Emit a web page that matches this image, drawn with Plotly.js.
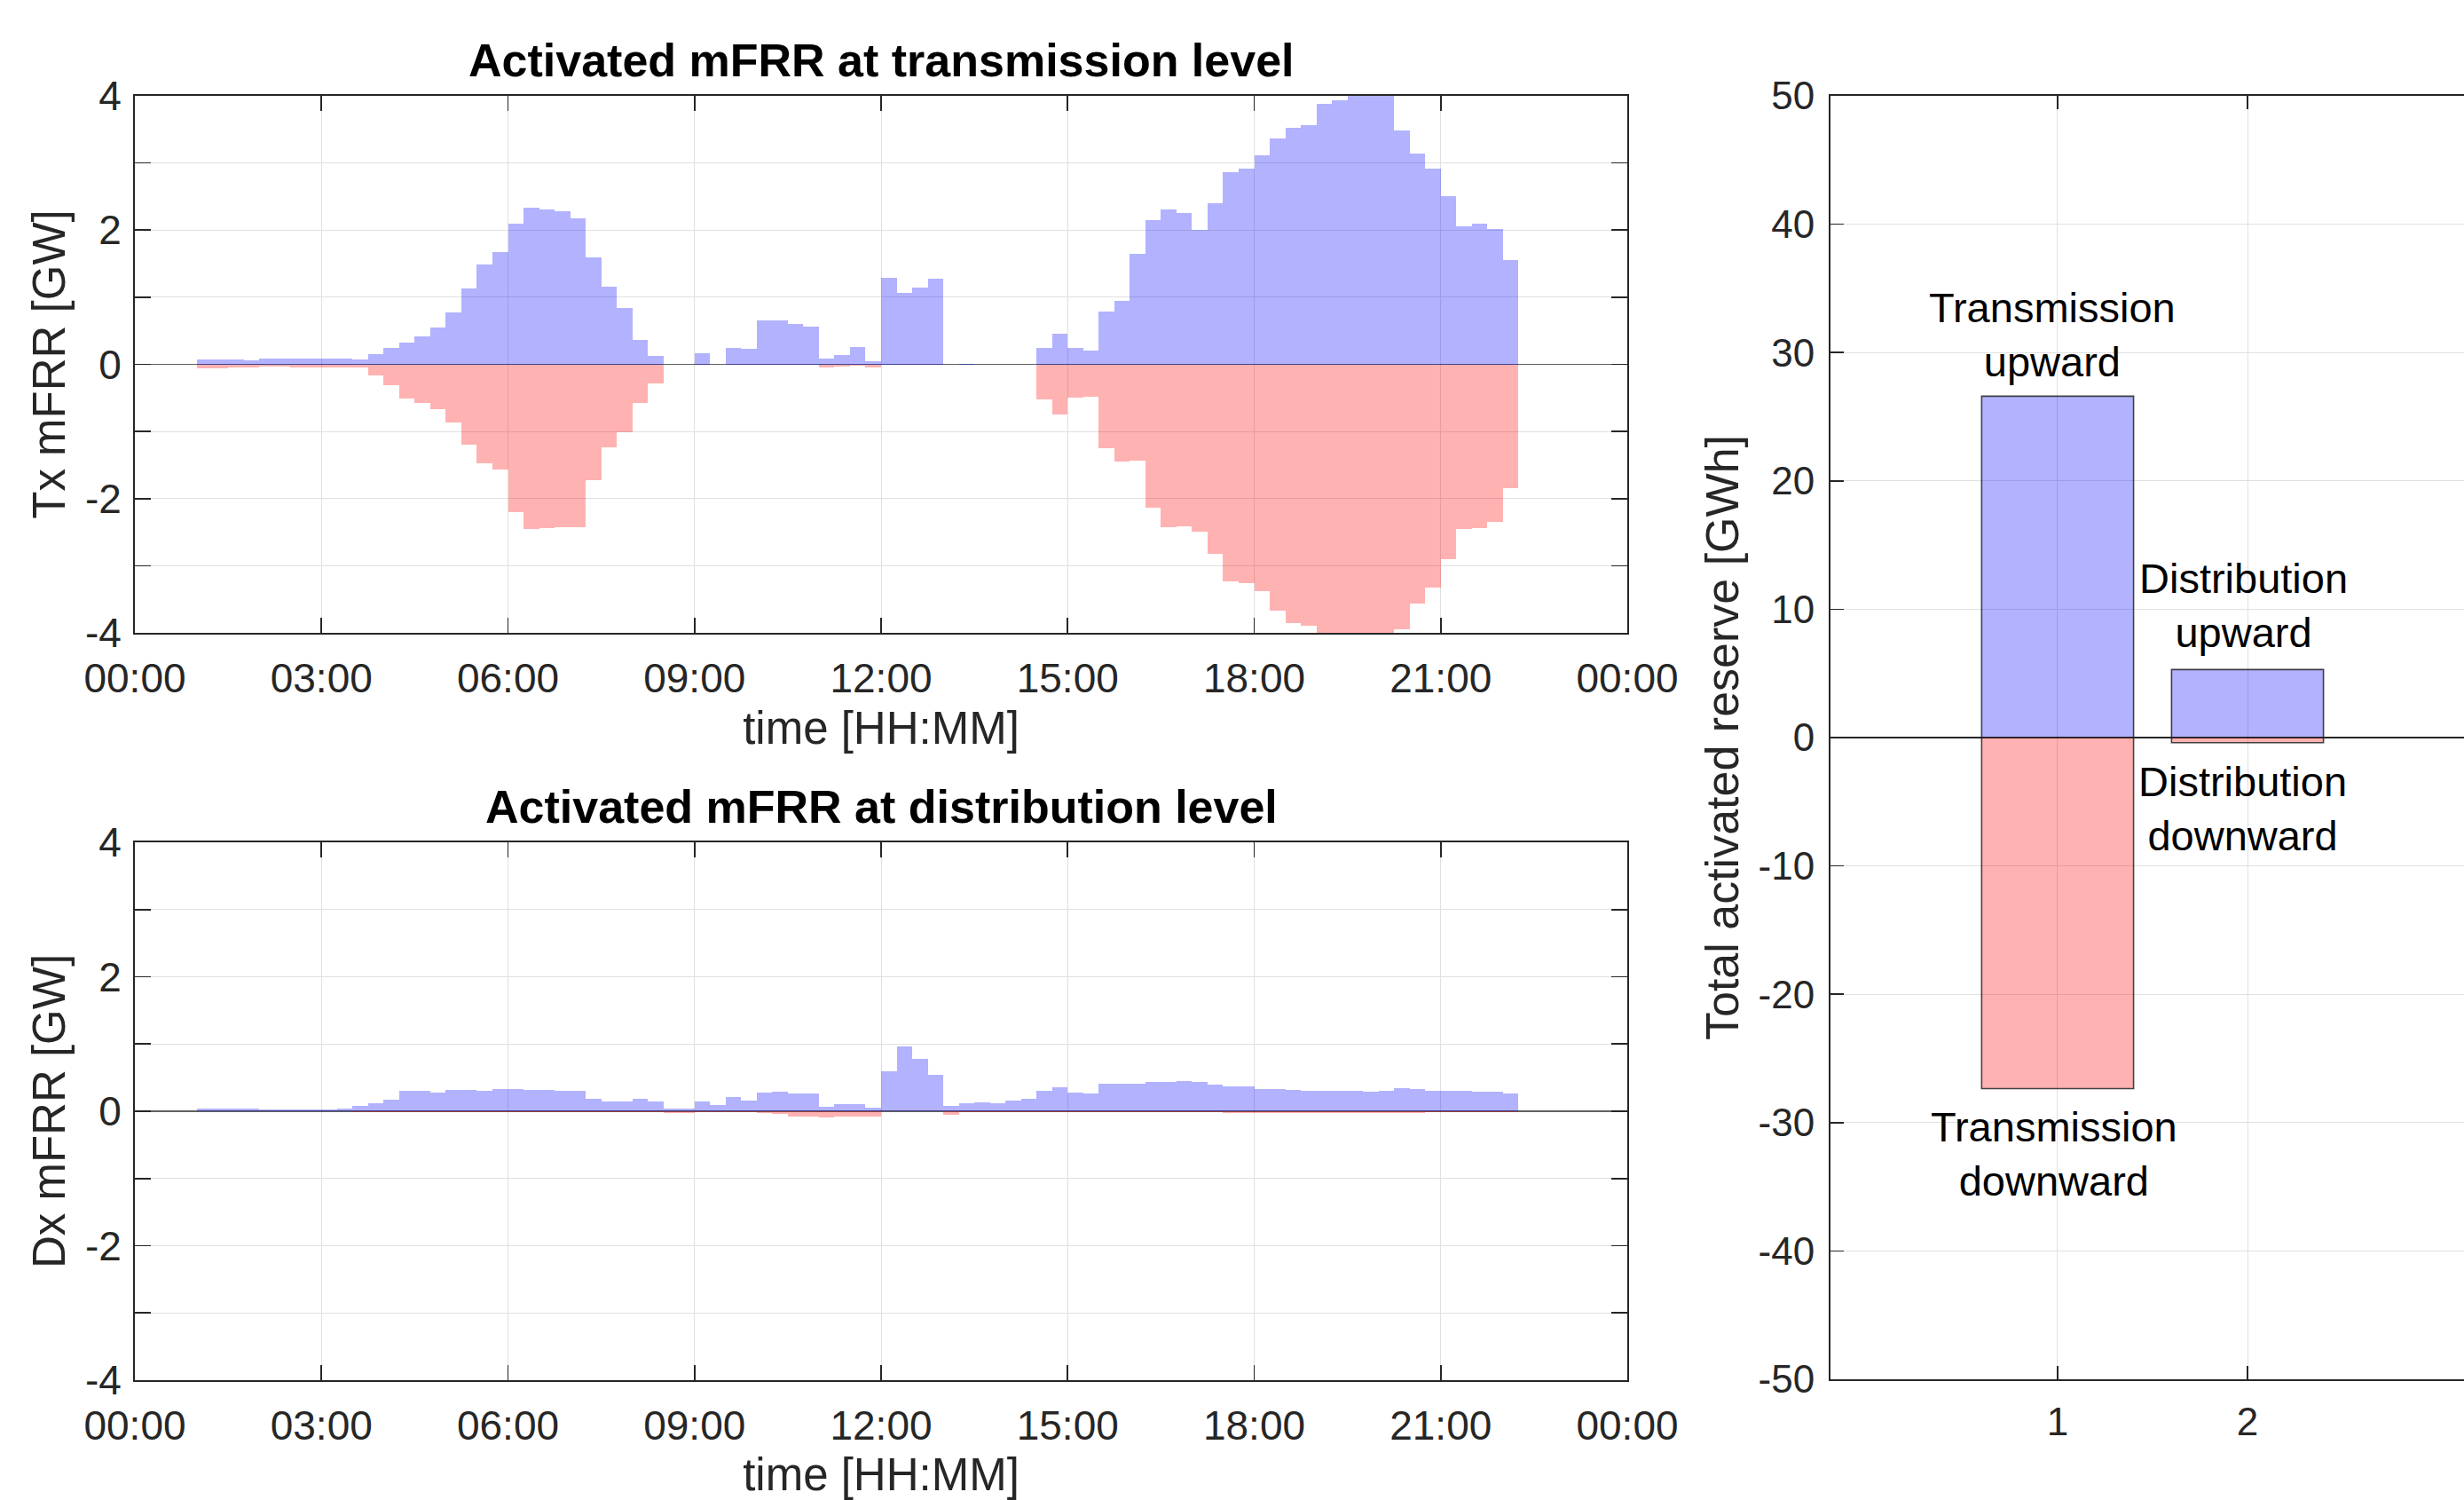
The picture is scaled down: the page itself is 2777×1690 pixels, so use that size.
<!DOCTYPE html>
<html>
<head>
<meta charset="utf-8">
<script src="https://cdn.plot.ly/plotly-3.0.1.min.js"></script>
<style>
  html, body { margin: 0; padding: 0; background: #ffffff; overflow: hidden; }
  #chart { width: 2777px; height: 1690px; }
</style>
</head>
<body>
<div id="chart"></div>
<script>
// ---------------- DATA ----------------
// 15-minute intervals, first interval starts at 01:00, last starts at 22:00
const firstIntervalHour = 1.0;
const intervalHours = 0.25;

// Activated mFRR at transmission level [GW]
const txUp = [
  0.07, 0.07, 0.07, 0.065, 0.08, 0.08, 0.085, 0.08, 0.08, 0.08,
  0.07, 0.15, 0.24, 0.32, 0.41, 0.55, 0.77, 1.13, 1.49, 1.67,
  2.10, 2.34, 2.31, 2.28, 2.18, 1.60, 1.16, 0.84, 0.36, 0.13,
  0, 0, 0.16, 0, 0.25, 0.23, 0.65, 0.65, 0.60, 0.565,
  0.09, 0.14, 0.26, 0.04, 1.29, 1.07, 1.14, 1.28, 0, 0.005,
  0, 0, 0, 0, 0.25, 0.46, 0.25, 0.20, 0.79, 0.94,
  1.64, 2.15, 2.31, 2.26, 2.00, 2.40, 2.86, 2.92, 3.11, 3.36,
  3.53, 3.57, 3.88, 3.94, 4.00, 4.00, 4.00, 3.49, 3.14, 2.92,
  2.50, 2.06, 2.09, 2.02, 1.55
];
const txDown = [
  -0.066, -0.066, -0.05, -0.04, -0.035, -0.035, -0.04, -0.04, -0.045, -0.045,
  -0.05, -0.17, -0.31, -0.51, -0.58, -0.67, -0.87, -1.20, -1.47, -1.57,
  -2.20, -2.45, -2.44, -2.43, -2.43, -1.73, -1.24, -1.01, -0.58, -0.29,
  0, 0, 0, 0, 0, 0, -0.005, -0.01, -0.01, -0.005,
  -0.04, -0.03, -0.02, -0.04, 0, 0, 0, 0, 0, 0,
  0, 0, 0, 0, -0.52, -0.75, -0.50, -0.48, -1.25, -1.45,
  -1.43, -2.14, -2.42, -2.41, -2.49, -2.82, -3.23, -3.26, -3.38, -3.67,
  -3.86, -3.90, -4.00, -4.00, -4.00, -4.00, -4.00, -3.95, -3.57, -3.33,
  -2.90, -2.45, -2.44, -2.35, -1.84
];

// Activated mFRR at distribution level [GW]
const dxUp = [
  0.035, 0.035, 0.035, 0.04, 0.026, 0.02, 0.02, 0.03, 0.03, 0.04,
  0.08, 0.12, 0.17, 0.31, 0.30, 0.28, 0.32, 0.32, 0.30, 0.33,
  0.33, 0.32, 0.32, 0.31, 0.30, 0.19, 0.14, 0.14, 0.185, 0.14,
  0.035, 0.035, 0.15, 0.09, 0.21, 0.16, 0.28, 0.29, 0.26, 0.26,
  0.07, 0.10, 0.10, 0.05, 0.59, 0.96, 0.78, 0.54, 0.08, 0.12,
  0.13, 0.12, 0.16, 0.19, 0.30, 0.35, 0.28, 0.27, 0.41, 0.41,
  0.41, 0.43, 0.44, 0.45, 0.44, 0.40, 0.37, 0.37, 0.33, 0.33,
  0.32, 0.30, 0.30, 0.31, 0.31, 0.29, 0.30, 0.34, 0.33, 0.30,
  0.30, 0.31, 0.29, 0.29, 0.27
];
const dxDown = [
  -0.005, -0.005, -0.005, -0.005, -0.005, -0.005, -0.005, -0.005, -0.005, -0.005,
  -0.015, -0.015, -0.015, -0.015, -0.015, -0.015, -0.015, -0.015, -0.015, -0.015,
  -0.015, -0.015, -0.015, -0.015, -0.015, -0.015, -0.015, -0.015, -0.015, -0.015,
  -0.02, -0.02, -0.015, -0.015, -0.015, -0.015, -0.02, -0.045, -0.075, -0.075,
  -0.09, -0.075, -0.075, -0.075, -0.005, -0.005, -0.005, -0.005, -0.05, -0.015,
  -0.015, -0.015, -0.015, -0.015, -0.015, -0.015, -0.015, -0.015, -0.015, -0.015,
  -0.015, -0.015, -0.015, -0.015, -0.015, -0.015, -0.02, -0.02, -0.02, -0.02,
  -0.02, -0.02, -0.025, -0.025, -0.03, -0.03, -0.03, -0.02, -0.02, -0.015,
  -0.015, -0.015, -0.015, -0.015, -0.015
];

// Total activated reserve [GWh]
const totalCategories = [1, 2];
const totalUp = [26.6, 5.3];
const totalDown = [-27.35, -0.4];
const totalLabels = [
  ["Transmission<br>upward", "Distribution<br>upward"],
  ["Transmission<br>downward", "Distribution<br>downward"]
];

// Tick labels
const timeTickHours = [0, 3, 6, 9, 12, 15, 18, 21, 24];
const timeTickLabels = ["00:00", "03:00", "06:00", "09:00", "12:00", "15:00", "18:00", "21:00", "00:00"];
const gwTickVals = [-4, -3, -2, -1, 0, 1, 2, 3, 4];
const gwTickLabels = ["-4", "", "-2", "", "0", "", "2", "", "4"];
const gwhTickVals = [-50, -40, -30, -20, -10, 0, 10, 20, 30, 40, 50];
const gwhTickLabels = ["-50", "-40", "-30", "-20", "-10", "0", "10", "20", "30", "40", "50"];

// ---------------- STYLE ----------------
const FONT = "Liberation Sans, Arial, Helvetica, sans-serif";
const AX = "#262626";
const GRID = "#e0e0e0";
const UP = "rgba(0,0,255,0.30)";
const DOWN = "rgba(255,0,0,0.30)";

const intervalStarts = txUp.map((_, i) => firstIntervalHour + i * intervalHours);

function stepBars(y, color, xa, ya) {
  return {
    type: "bar", x: intervalStarts, y: y, xaxis: xa, yaxis: ya,
    width: intervalHours, offset: 0,
    marker: { color: color, line: { width: 0 } },
    hoverinfo: "skip"
  };
}

const traces = [
  stepBars(txUp, UP, "x", "y"),
  stepBars(txDown, DOWN, "x", "y"),
  stepBars(dxUp, UP, "x2", "y2"),
  stepBars(dxDown, DOWN, "x2", "y2"),
  {
    type: "bar", x: totalCategories, y: totalUp, xaxis: "x3", yaxis: "y3",
    width: 0.8, marker: { color: UP, line: { color: "rgba(38,38,38,0.85)", width: 1.6 } },
    hoverinfo: "skip"
  },
  {
    type: "bar", x: totalCategories, y: totalDown, xaxis: "x3", yaxis: "y3",
    width: 0.8, marker: { color: DOWN, line: { color: "rgba(38,38,38,0.85)", width: 1.6 } },
    hoverinfo: "skip"
  }
];

function timeAxis(domain, anchor) {
  return {
    domain: domain, anchor: anchor, range: [0, 24], fixedrange: true,
    tickmode: "array", tickvals: timeTickHours, ticktext: timeTickLabels,
    ticks: "inside", ticklen: 17, tickwidth: 1.7, tickcolor: AX,
    showline: true, linecolor: AX, linewidth: 2, mirror: "ticks",
    showgrid: true, gridcolor: GRID, gridwidth: 1, zeroline: false,
    tickfont: { family: FONT, size: 46, color: AX },
    ticklabelstandoff: 10,
    title: { text: "time [HH:MM]", font: { family: FONT, size: 51, color: AX }, standoff: 13 },
    automargin: false
  };
}
function gwAxis(domain, anchor, label) {
  return {
    domain: domain, anchor: anchor, range: [-4, 4], fixedrange: true,
    tickmode: "array", tickvals: gwTickVals, ticktext: gwTickLabels,
    ticks: "inside", ticklen: 18, tickwidth: 1.7, tickcolor: AX,
    showline: true, linecolor: AX, linewidth: 2, mirror: "ticks",
    showgrid: true, gridcolor: GRID, gridwidth: 1,
    zeroline: true, zerolinecolor: "rgba(0,0,0,0.62)", zerolinewidth: 1.6,
    tickfont: { family: FONT, size: 46, color: AX },
    ticklabelstandoff: 4,
    title: { text: label, font: { family: FONT, size: 51, color: AX }, standoff: 6 },
    automargin: false
  };
}

const W = 2777, H = 1690;
const layout = {
  width: W, height: H,
  margin: { l: 0, r: 0, t: 0, b: 0, pad: 0 },
  paper_bgcolor: "#ffffff", plot_bgcolor: "#ffffff",
  showlegend: false, barmode: "overlay", bargap: 0,
  font: { family: FONT, color: AX, size: 46 },
  xaxis: timeAxis([152 / W, 1834 / W], "y"),
  yaxis: gwAxis([1 - 713 / H, 1 - 108 / H], "x", "Tx mFRR [GW]"),
  xaxis2: timeAxis([152 / W, 1834 / W], "y2"),
  yaxis2: gwAxis([1 - 1555 / H, 1 - 949 / H], "x2", "Dx mFRR [GW]"),
  xaxis3: {
    domain: [2063 / W, 1], anchor: "y3", range: [-0.196, 3.14], fixedrange: true,
    tickmode: "array", tickvals: totalCategories, ticktext: totalCategories.map(String),
    ticks: "inside", ticklen: 15, tickwidth: 1.7, tickcolor: AX,
    showline: true, linecolor: AX, linewidth: 2, mirror: "ticks",
    showgrid: true, gridcolor: GRID, gridwidth: 1, zeroline: false,
    tickfont: { family: FONT, size: 44, color: AX },
    ticklabelstandoff: 8,
    automargin: false
  },
  yaxis3: {
    domain: [1 - 1554 / H, 1 - 108 / H], anchor: "x3", range: [-50, 50], fixedrange: true,
    tickmode: "array", tickvals: gwhTickVals, ticktext: gwhTickLabels,
    ticks: "inside", ticklen: 15, tickwidth: 1.7, tickcolor: AX,
    showline: true, linecolor: AX, linewidth: 2, mirror: false,
    showgrid: true, gridcolor: GRID, gridwidth: 1,
    zeroline: true, zerolinecolor: "#262626", zerolinewidth: 1.2,
    tickfont: { family: FONT, size: 44, color: AX },
    ticklabelstandoff: 7,
    title: { text: "Total activated reserve [GWh]", font: { family: FONT, size: 52, color: AX }, standoff: 5 },
    automargin: false
  },
  annotations: [
    { xref: "paper", yref: "paper", x: 993 / W, y: 1 - 68 / H, xanchor: "center", yanchor: "middle",
      text: "Activated mFRR at transmission level", showarrow: false,
      font: { family: FONT, size: 52, color: "#000000", weight: "bold" } },
    { xref: "paper", yref: "paper", x: 993 / W, y: 1 - 909 / H, xanchor: "center", yanchor: "middle",
      text: "Activated mFRR at distribution level", showarrow: false,
      font: { family: FONT, size: 52, color: "#000000", weight: "bold" } },
    { xref: "x3", yref: "y3", x: totalCategories[0] - 0.03, y: 31.4, xanchor: "center", yanchor: "middle",
      text: totalLabels[0][0], showarrow: false, font: { family: FONT, size: 47, color: "#000000" } },
    { xref: "x3", yref: "y3", x: totalCategories[1] - 0.02, y: 10.3, xanchor: "center", yanchor: "middle",
      text: totalLabels[0][1], showarrow: false, font: { family: FONT, size: 47, color: "#000000" } },
    { xref: "x3", yref: "y3", x: totalCategories[1] - 0.025, y: -5.5, xanchor: "center", yanchor: "middle",
      text: totalLabels[1][1], showarrow: false, font: { family: FONT, size: 47, color: "#000000" } },
    { xref: "x3", yref: "y3", x: totalCategories[0] - 0.02, y: -32.4, xanchor: "center", yanchor: "middle",
      text: totalLabels[1][0], showarrow: false, font: { family: FONT, size: 47, color: "#000000" } }
  ]
};

Plotly.newPlot("chart", traces, layout, { displayModeBar: false, staticPlot: true });
</script>
</body>
</html>
